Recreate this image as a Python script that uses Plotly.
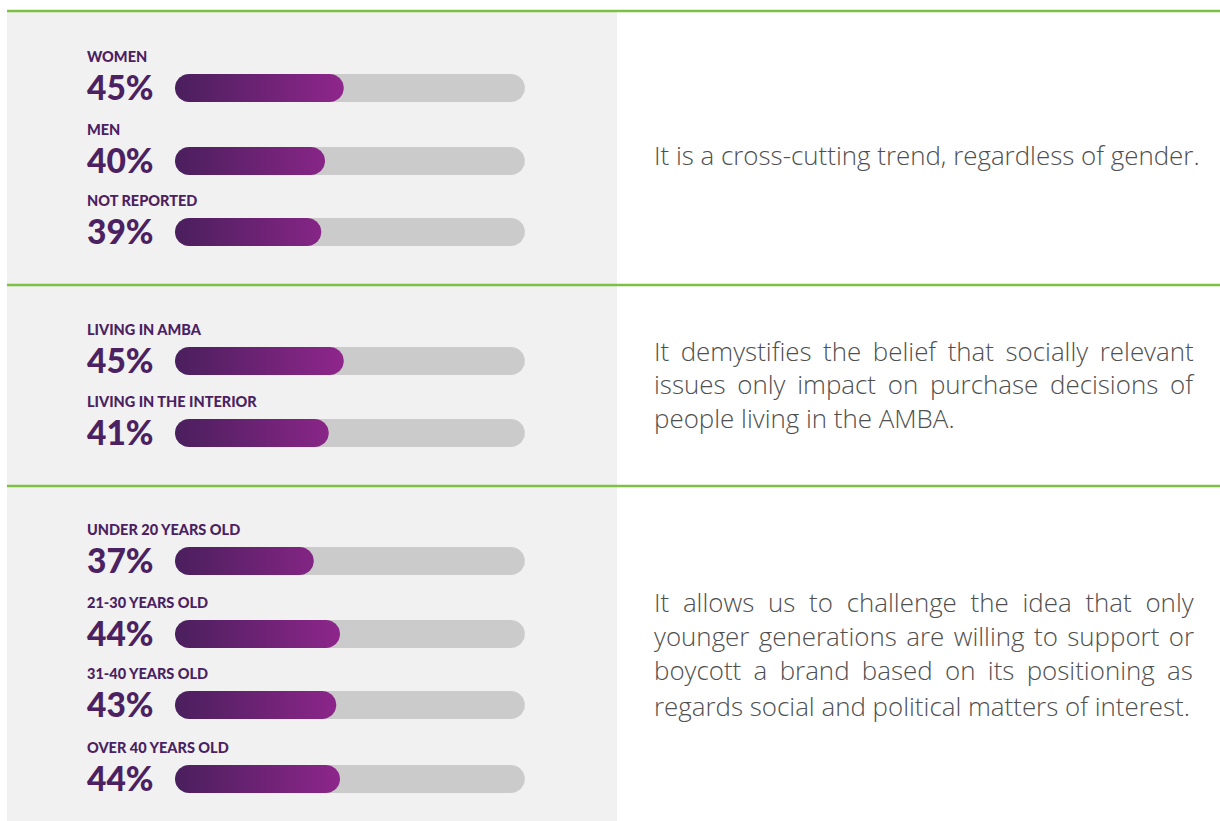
import numpy as np
import plotly.graph_objects as go

# data
labels = ["WOMEN", "MEN", "NOT REPORTED",
          "LIVING IN AMBA", "LIVING IN THE INTERIOR",
          "UNDER 20 YEARS OLD", "21-30 YEARS OLD", "31-40 YEARS OLD", "OVER 40 YEARS OLD"]
values = [45, 40, 39, 45, 41, 37, 44, 43, 44]
notes = [
    ["It is a cross-cutting trend, regardless of gender."],
    ["It demystifies the belief that socially relevant",
     "issues only impact on purchase decisions of",
     "people living in the AMBA."],
    ["It allows us to challenge the idea that only",
     "younger generations are willing to support or",
     "boycott a brand based on its positioning as",
     "regards social and political matters of interest."],
]

# layout (pixels)
W, H = 1220, 821
bar_y = [88, 161, 232, 361, 433, 561, 634, 705, 779]
bar_h = 28
track_max = 93.3
x0_px, px_per_pct = 175, 3.75
sec_top = [11, 285, 486]
note_y = [[155], [351, 384, 418], [602, 636, 670, 706]]
# extra word spacing (px) to fake justified lines
note_ws = [[0], [4.8, 5.0, 0], [7.0, 2.7, 5.6, 0]]

PURPLE = "#4b2162"
GREEN = "#7cc142"
grad = [[0, "#4a1f5d"], [1, "#8f268c"]]


def pill(a, b, yc, h, n=24):
    r = h / 2
    rx = r / px_per_pct
    t = np.linspace(np.pi / 2, 3 * np.pi / 2, n)
    xl = a + rx + rx * np.cos(t)
    yl = yc - r * np.sin(t)
    t2 = np.linspace(-np.pi / 2, np.pi / 2, n)
    xr = b - rx + rx * np.cos(t2)
    yr = yc - r * np.sin(t2)
    xs = np.concatenate([xl, xr, xl[:1]])
    ys = np.concatenate([yl, yr, yl[:1]])
    return xs, ys


fig = go.Figure()

for i, v in enumerate(values):
    xs, ys = pill(0, track_max, bar_y[i], bar_h)
    fig.add_trace(go.Scatter(x=xs, y=ys, xaxis="x2", yaxis="y", fill="toself", fillcolor="#cbcbcb",
                             mode="lines", line=dict(width=0), hoverinfo="skip"))
    xs, ys = pill(0, v, bar_y[i], bar_h)
    fig.add_trace(go.Scatter(x=xs, y=ys, xaxis="x2", yaxis="y", fill="toself", mode="lines",
                             line=dict(width=0),
                             fillgradient=dict(type="horizontal", colorscale=grad, start=0, stop=45),
                             hoverinfo="skip"))
    fig.add_annotation(x=85, y=bar_y[i] - 32, xref="x", yref="y", text=labels[i],
                       xanchor="left", yanchor="middle", showarrow=False,
                       font=dict(family="Lato", size=14.5, color=PURPLE, weight=900))
    fig.add_annotation(x=85, y=bar_y[i] - 1, xref="x", yref="y", text=f"{v}%",
                       xanchor="left", yanchor="middle", showarrow=False,
                       font=dict(family="Lato", size=33.5, color=PURPLE, weight=900))

for s, lines in enumerate(notes):
    for j, ln in enumerate(lines):
        txt = f'<span style="word-spacing:{note_ws[s][j]}px">{ln}</span>'
        fig.add_annotation(x=652, y=note_y[s][j], xref="x", yref="y", text=txt,
                           xanchor="left", yanchor="middle", showarrow=False,
                           font=dict(family="Open Sans", size=25.9, color="#4f4f4f", weight=300))

shapes = [dict(type="rect", xref="x", yref="y", x0=7, x1=617, y0=12, y1=H,
               fillcolor="#f1f1f1", line_width=0, layer="below")]
for yt in sec_top:
    shapes.append(dict(type="line", xref="x", yref="y", x0=7, x1=W, y0=yt, y1=yt,
                       line=dict(color=GREEN, width=2.5)))

fig.update_layout(
    width=W, height=H, margin=dict(l=0, r=0, t=0, b=0),
    paper_bgcolor="white", plot_bgcolor="rgba(0,0,0,0)",
    showlegend=False, shapes=shapes,
    xaxis=dict(range=[0, W], domain=[0, 1], visible=False, fixedrange=True),
    xaxis2=dict(range=[0, 100], domain=[x0_px / W, (x0_px + 100 * px_per_pct) / W],
                anchor="y", visible=False, fixedrange=True),
    yaxis=dict(range=[H, 0], domain=[0, 1], visible=False, fixedrange=True),
)

fig.write_html("out.html", config={"displayModeBar": False},
               post_script="document.body.style.margin='0';")
